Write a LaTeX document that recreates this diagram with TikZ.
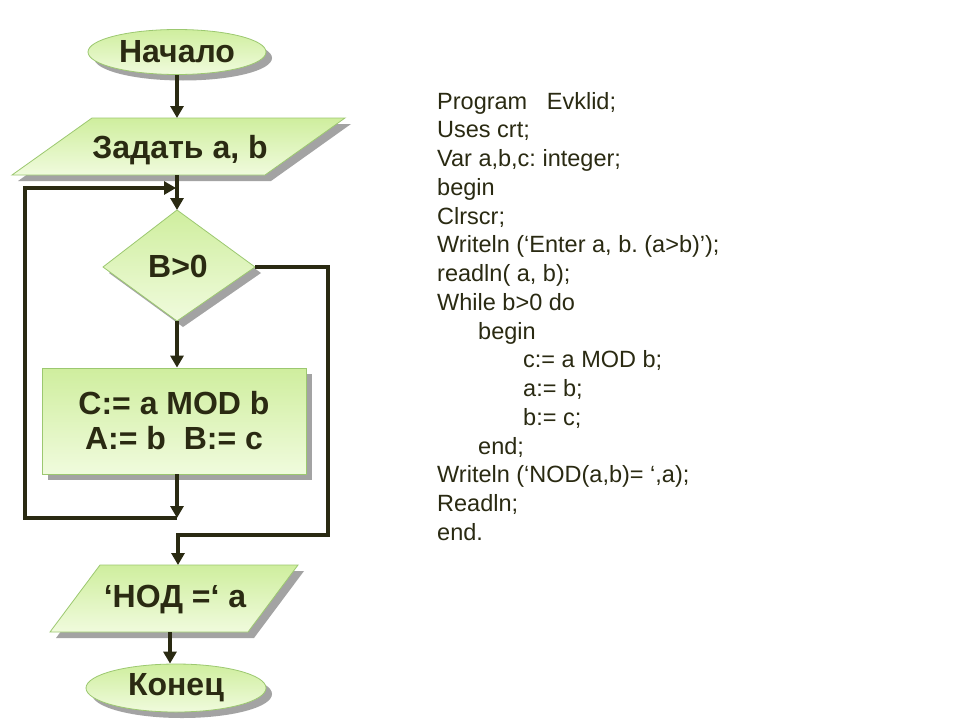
\documentclass[tikz,border=0pt]{standalone}
\usepackage{fontspec}
\setmainfont{Liberation Sans}
\usetikzlibrary{arrows.meta,shadows,shapes.geometric}
\definecolor{fillA}{HTML}{CFEE9E}
\definecolor{fillB}{HTML}{F0FBDD}
\definecolor{edgec}{HTML}{9CC870}
\definecolor{ink}{HTML}{2A2A12}
\definecolor{shadec}{HTML}{A3A3A3}
\frenchspacing
\begin{document}
\begin{tikzpicture}[x=1pt,y=-1pt,
 blockfill/.style={top color=fillA,bottom color=fillB,draw=edgec,line width=0.8pt,
   drop shadow={shadow xshift=6pt,shadow yshift=-6pt,fill=shadec,opacity=1}},
 lbl/.style={font=\fontsize{32}{36}\selectfont\bfseries,text=ink,inner sep=0pt},
 flow/.style={line width=4pt,draw=ink,-{Triangle[length=12pt,width=13pt]}},
 code/.style={font=\fontsize{23.5}{26}\selectfont,text=ink,anchor=base west,inner sep=0pt}]
\useasboundingbox (0,0) rectangle (960,720);
\fill[white] (0,0) rectangle (960,720);

% start
\node[ellipse,minimum width=178pt,minimum height=45pt,blockfill,lbl] (start) at (177,52) {Начало};

% input parallelogram
\coordinate (p1a) at (92,118);
\coordinate (p1b) at (345,118);
\coordinate (p1c) at (265,175);
\coordinate (p1d) at (12,175);
\path[blockfill] (p1a) -- (p1b) -- (p1c) -- (p1d) -- cycle;
\node[lbl] (in1) at (180,150) {Задать a, b};
\coordinate (p1top) at (177,118);
\coordinate (p1bot) at (177,175);

% decision
\coordinate (dT) at (177,210);
\coordinate (dR) at (255,267);
\coordinate (dB) at (177,321);
\coordinate (dL) at (103,267);
\path[blockfill] (dT) -- (dR) -- (dB) -- (dL) -- cycle;
\node[lbl] (cond) at (178,266) {B>0};

% process
\node[rectangle,minimum width=264pt,minimum height=106pt,blockfill,lbl,align=center] (body) at (174,421) {C:= a MOD b\\[-1pt]A:= b\ \ B:= c};

% output parallelogram
\coordinate (p2a) at (100,565);
\coordinate (p2b) at (298,565);
\coordinate (p2c) at (248,632);
\coordinate (p2d) at (50,632);
\path[blockfill] (p2a) -- (p2b) -- (p2c) -- (p2d) -- cycle;
\node[lbl] (out) at (175,600) {‘НОД =‘ a};
\coordinate (p2top) at (178,565);
\coordinate (p2bot) at (170,632);

% end
\node[ellipse,minimum width=180pt,minimum height=48pt,blockfill,lbl] (stop) at (176,688) {Конец};

% connectors
\coordinate (join1) at (177,518);
\coordinate (lA) at (25,518);
\coordinate (lB) at (25,188);
\coordinate (lC) at (176,188);
\coordinate (rA) at (328,267);
\coordinate (rB) at (328,535);
\coordinate (rC) at (178,535);

\draw[flow] (start.south) -- (p1top);
\draw[flow] (p1bot) -- (dT);
\draw[flow] (dB) -- (body.north -| dB);
\draw[flow] (body.south -| join1) -- (join1);
\draw[flow] (join1) -- (lA) -- (lB) -- (lC);
\draw[flow] (dR) -- (rA) -- (rB) -- (rC) -- (p2top);
\draw[flow] (p2bot) -- (p2bot |- stop.north);

% program text
\node[code] (c0) at (437,109) {Program\ \ \ Evklid;};
\node[code] (c1) at (437,137.75) {Uses crt;};
\node[code] (c2) at (437,166.5) {Var a,b,c: integer;};
\node[code] (c3) at (437,195.25) {begin};
\node[code] (c4) at (437,224) {Clrscr;};
\node[code] (c5) at (437,252.75) {Writeln (‘Enter a, b. (a>b)’);};
\node[code] (c6) at (437,281.5) {readln( a, b);};
\node[code] (c7) at (437,310.25) {While b>0 do};
\node[code] (c8) at (478,339) {begin};
\node[code] (c9) at (523,367.75) {c:= a MOD b;};
\node[code] (c10) at (523,396.5) {a:= b;};
\node[code] (c11) at (523,425.25) {b:= c;};
\node[code] (c12) at (478,454) {end;};
\node[code] (c13) at (437,482.75) {Writeln (‘NOD(a,b)= ‘,a);};
\node[code] (c14) at (437,511.5) {Readln;};
\node[code] (c15) at (437,540.25) {end.};
\end{tikzpicture}
\end{document}
